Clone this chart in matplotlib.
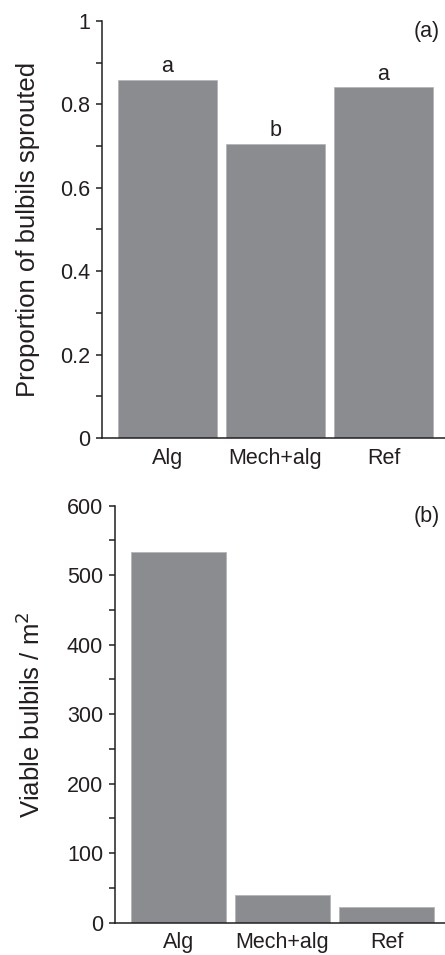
import matplotlib
matplotlib.use("Agg")
import matplotlib.pyplot as plt
from matplotlib.ticker import MultipleLocator, FuncFormatter

plt.rcParams['font.family'] = ['Liberation Sans', 'DejaVu Sans']

categories = ["Alg", "Mech+alg", "Ref"]
proportion_sprouted = [0.858, 0.705, 0.841]
sig_letters = ["a", "b", "a"]
viable_per_m2 = [533, 40, 23]

bar_color = "#8b8c90"
edge_color = "#b4b5b8"
ink = "#231f20"
fs = 15.5
lfs = 18.5

fig = plt.figure(figsize=(4.45, 9.55), dpi=100)
ax1 = fig.add_axes([102/445, (955-438)/955, (445-102)/445, 417/955])
ax2 = fig.add_axes([115/445, (955-922.7)/955, (445-115)/445, 417/955])

def style(ax):
    for s in ("top", "right"):
        ax.spines[s].set_visible(False)
    for s in ("left", "bottom"):
        ax.spines[s].set_linewidth(1.1)
        ax.spines[s].set_color(ink)
    ax.tick_params(axis="y", which="both", direction="out", length=4.5, width=1.1,
                   color=ink, labelsize=fs, pad=4, labelcolor=ink)
    ax.tick_params(axis="x", which="both", length=0, labelsize=fs, pad=7, labelcolor=ink)

x = list(range(len(categories)))

# Panel (a)
ax1.bar(x, proportion_sprouted, width=0.91, color=bar_color, edgecolor=edge_color, linewidth=0.6)
ax1.set_xlim(-0.606, 2.57)
ax1.set_ylim(0, 1)
ax1.yaxis.set_major_locator(MultipleLocator(0.2))
ax1.yaxis.set_minor_locator(MultipleLocator(0.1))
ax1.yaxis.set_major_formatter(FuncFormatter(lambda v, p: "0" if abs(v) < 1e-9 else ("1" if abs(v-1) < 1e-9 else f"{v:.1f}")))
ax1.set_xticks(x)
ax1.set_xticklabels(categories)
style(ax1)
ax1.set_ylabel("Proportion of bulbils sprouted", fontsize=lfs, color=ink, va="center")
ax1.yaxis.set_label_coords((28-102)/343, 0.5)
for xi, v, t in zip(x, proportion_sprouted, sig_letters):
    ax1.annotate(t, (xi, v), xytext=(0, 2), textcoords="offset points",
                 ha="center", va="bottom", fontsize=fs, color=ink)
ax1.text(0.985, 0.975, "(a)", transform=ax1.transAxes, ha="right", va="center",
         fontsize=fs, color=ink)

# Panel (b)
ax2.bar(x, viable_per_m2, width=0.91, color=bar_color, edgecolor=edge_color, linewidth=0.6)
ax2.set_xlim(-0.607, 2.56)
ax2.set_ylim(0, 600)
ax2.yaxis.set_major_locator(MultipleLocator(100))
ax2.yaxis.set_minor_locator(MultipleLocator(50))
ax2.set_xticks(x)
ax2.set_xticklabels(categories)
style(ax2)
ax2.set_ylabel("Viable bulbils / m$^2$", fontsize=lfs, color=ink, va="center")
ax2.yaxis.set_label_coords((31-115)/330, 0.5)
ax2.text(0.985, 0.975, "(b)", transform=ax2.transAxes, ha="right", va="center",
         fontsize=fs, color=ink)

fig.savefig("out.png", dpi=100)
